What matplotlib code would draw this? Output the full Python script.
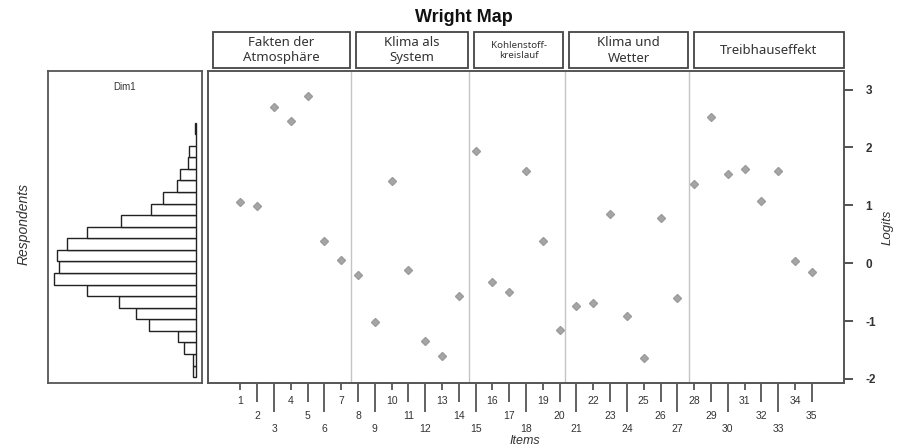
import numpy as np
import matplotlib
matplotlib.use('Agg')
import matplotlib.pyplot as plt
from matplotlib.patches import Rectangle
import matplotlib.transforms as mtransforms

# === Data ===
items = list(range(1, 36))
item_logits = [1.06, 0.98, 2.69, 2.46, 2.88, 0.39, 0.06,
               -0.21, -1.01, 1.42, -0.12, -1.35, -1.60, -0.56,
               1.94, -0.33, -0.50, 1.60, 0.39, -1.15,
               -0.74, -0.68, 0.85, -0.92, -1.63, 0.78, -0.61,
               1.37, 2.53, 1.54, 1.62, 1.08, 1.59, 0.03, -0.16]

# respondent histogram (lower bin edge, bin width 0.2 logits)
resp_bins = [-1.97, -1.77, -1.57, -1.37, -1.17, -0.97, -0.77, -0.57, -0.37, -0.17, 0.03,
             0.23, 0.43, 0.63, 0.83, 1.03, 1.23, 1.43, 1.63, 1.83, 2.03, 2.23]
resp_counts = [3, 3, 12, 18, 47, 60, 77, 109, 142, 137, 139,
               129, 109, 75, 45, 33, 19, 16, 8, 7, 0, 1]
bin_width = 0.2

dimensions = ["Fakten der\nAtmosphäre", "Klima als\nSystem", "Kohlenstoff-\nkreislauf",
              "Klima und\nWetter", "Treibhauseffekt"]
dim_breaks = [7.6, 14.6, 20.3, 27.7]   # divider lines between item groups
logit_ticks = [-2, -1, 0, 1, 2, 3]

# === Layout ===
W, H = 897, 447
fig = plt.figure(figsize=(W / 100, H / 100), dpi=100)
fig.set_facecolor('white')

def fx(px):
    return px / W

def fy(py):
    return 1 - py / H

TOP, BOT = 71, 383
YLIM = (-2.07, 3.32)
XLIM = (-0.93, 36.92)
label_font = ['Liberation Sans', 'DejaVu Sans']

ax = fig.add_axes([fx(208), fy(BOT), fx(844) - fx(208), fy(TOP) - fy(BOT)])
axh = fig.add_axes([fx(48), fy(BOT), fx(202) - fx(48), fy(TOP) - fy(BOT)])

# === Main panel: item difficulties ===
ax.plot(items, item_logits, linestyle='none', marker='D', markersize=4.3,
        color='#a5a5a5', markeredgecolor='#9c9c9c', zorder=3)
for b in dim_breaks:
    ax.axvline(b, color='#c4c4c4', linewidth=1.0, zorder=1)

ax.set_xlim(*XLIM)
ax.set_ylim(*YLIM)
for s in ax.spines.values():
    s.set_color('#555555')
    s.set_linewidth(1.4)

ax.yaxis.tick_right()
ax.set_yticks(logit_ticks)
ax.set_yticklabels([str(t) for t in logit_ticks], fontweight='bold', fontsize=8.5,
                   color='#333333', family=label_font)
ax.tick_params(axis='y', direction='out', length=6.5, width=1.3, color='#444444', pad=9)

# staggered item ticks: three rows
ax.set_xticks(items)
ax.set_xticklabels([])
tick_len = [4.8, 13.9, 21.1]
row_off = [13.3, 23.9, 33.0]
ax.tick_params(axis='x', direction='out', width=1.3, color='#555555')
for i, t in enumerate(ax.xaxis.get_major_ticks()):
    t.tick1line.set_markersize(tick_len[i % 3])
for i, it in enumerate(items):
    ax.annotate(str(it), xy=(it, 0), xycoords=('data', 'axes fraction'),
                xytext=(0, -row_off[i % 3]), textcoords='offset points',
                ha='center', va='center', fontsize=7.5, color='#333333', family=label_font,
                annotation_clip=False)

# === Strip boxes with dimension names ===
bounds = [XLIM[0]] + dim_breaks + [XLIM[1]]
trans = mtransforms.blended_transform_factory(ax.transData, fig.transFigure)
for i, name in enumerate(dimensions):
    x0 = bounds[i] + 0.28
    x1 = bounds[i + 1] - 0.08
    if i == 4:
        x1 = bounds[i + 1]
    ax.add_patch(Rectangle((x0, fy(68)), x1 - x0, fy(32.3) - fy(68), transform=trans,
                           facecolor='white', edgecolor='#444444', linewidth=1.3,
                           clip_on=False))
    fs = 7 if name.startswith('Kohlen') else 9.5
    ax.text((x0 + x1) / 2, fy(50.5), name, transform=trans, ha='center', va='center',
            fontsize=fs, color='#333333', family=['Noto Sans', 'DejaVu Sans'],
            linespacing=1.2 if fs > 8 else 1.1)

# === Histogram of respondents ===
axh.barh(resp_bins, resp_counts, height=bin_width, align='edge',
         color='white', edgecolor='#222222', linewidth=1.0)
axh.set_xlim(148, -6)
axh.set_ylim(*YLIM)
axh.set_xticks([])
axh.set_yticks([])
for s in axh.spines.values():
    s.set_color('#555555')
    s.set_linewidth(1.3)
axh.text(0.5, 0.949, "Dim1", transform=axh.transAxes, ha='center', va='center',
         fontsize=7, color='#333333', family=label_font)

# === Titles and axis labels ===
fig.text(fx(464), fy(18), "Wright Map", ha='center', va='center', fontsize=13,
         fontweight='bold', color='#111111', family=label_font)
fig.text(fx(888), fy(227), "Logits", rotation=90, ha='center', va='center',
         fontsize=9.5, fontstyle='italic', color='#333333', family=label_font)
fig.text(fx(24), fy(224), "Respondents", rotation=90, ha='center', va='center',
         fontsize=10, fontstyle='italic', color='#333333', family=label_font)
fig.text(fx(525), fy(440.5), "Items", ha='center', va='center',
         fontsize=9, fontstyle='italic', color='#333333', family=label_font)

fig.savefig('out.png', dpi=100)
